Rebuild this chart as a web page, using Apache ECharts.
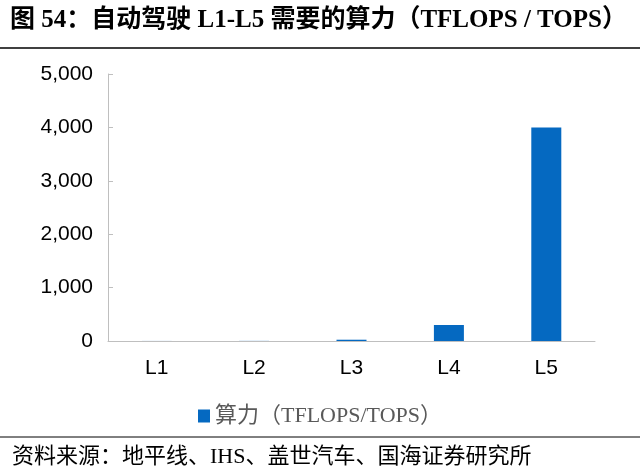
<!DOCTYPE html>
<html style="height: 100%">
<head>
<meta charset="utf-8">
</head>
<body style="height: 100%; margin: 0; background: #fff">
	<div id="container" style="width: 640px; height: 476px"></div>
	<script type="text/javascript" src="https://cdn.jsdelivr.net/npm/echarts@6/dist/echarts.min.js"></script>
	<script type="text/javascript">
		// 自动驾驶各级别所需算力
		var categories = ['L1', 'L2', 'L3', 'L4', 'L5'];
		var power = [1, 2, 24, 300, 4000];
		var seriesName = '算力（TFLOPS/TOPS）';
		var titleText = '图 54：自动驾驶 L1-L5 需要的算力（TFLOPS / TOPS）';
		var sourceText = '资料来源：地平线、IHS、盖世汽车、国海证券研究所';

		var serif = '"Liberation Serif", "Noto Sans CJK SC", serif';
		var sans = '"Liberation Sans", Arial, sans-serif';

		var myChart = echarts.init(document.getElementById('container'));
		var option = {
			animation: false,
			backgroundColor: '#fff',
			graphic: [
				{
					type: 'text', left: 10, top: 8,
					style: { text: titleText, font: 'bold 25px ' + serif, fill: '#000' }
				},
				{
					type: 'line', shape: { x1: 0, y1: 48, x2: 640, y2: 48 },
					style: { stroke: '#000', lineWidth: 1.5 }
				},
				{
					type: 'line', shape: { x1: 0, y1: 437, x2: 640, y2: 437 },
					style: { stroke: '#000', lineWidth: 1 }
				},
				{
					type: 'text', left: 12, top: 446,
					style: { text: sourceText, font: '22px ' + serif, fill: '#000' }
				}
			],
			legend: {
				top: 400,
				left: 'center',
				itemWidth: 12,
				itemHeight: 13,
				itemGap: 8,
				icon: 'rect',
				textStyle: { fontFamily: serif, fontSize: 22, color: '#595959' },
				data: [seriesName]
			},
			grid: { left: 108, right: 45, top: 74, bottom: 135 },
			xAxis: {
				type: 'category',
				data: categories,
				axisLine: { lineStyle: { color: '#bfbfbf' } },
				axisTick: { show: false },
				axisLabel: { fontFamily: sans, fontSize: 21, color: '#000', margin: 17 }
			},
			yAxis: {
				type: 'value',
				min: 0, max: 5000, interval: 1000,
				axisLine: { show: true, lineStyle: { color: '#bfbfbf' } },
				axisTick: { show: true, inside: true, length: 5, lineStyle: { color: '#bfbfbf' } },
				splitLine: { show: false },
				axisLabel: {
					fontFamily: sans, fontSize: 21, color: '#000', margin: 15,
					formatter: function (v) { return v.toLocaleString('en-US'); }
				}
			},
			series: [{
				name: seriesName,
				type: 'bar',
				data: power,
				barWidth: 30,
				itemStyle: { color: '#0569C1' }
			}]
		};
		myChart.setOption(option, true);
	</script>
</body>
</html>
